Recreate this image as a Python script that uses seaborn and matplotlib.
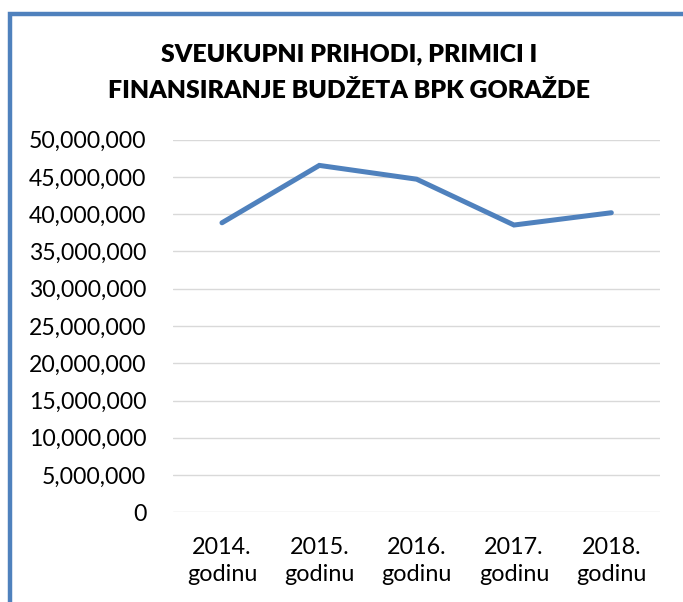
import matplotlib
matplotlib.use("Agg")
import matplotlib.pyplot as plt
import matplotlib.ticker as mticker
from matplotlib.patches import Rectangle
import pandas as pd
import seaborn as sns

# data
godine = ["2014.\ngodinu", "2015.\ngodinu", "2016.\ngodinu", "2017.\ngodinu", "2018.\ngodinu"]
prihodi = [38850000, 46550000, 44700000, 38550000, 40200000]
y_ticks = [0, 5000000, 10000000, 15000000, 20000000, 25000000,
           30000000, 35000000, 40000000, 45000000, 50000000]

df = pd.DataFrame({"godina": godine, "iznos": prihodi})

sns.set_theme(style="white")
plt.rcParams["font.family"] = ["Lato", "DejaVu Sans"]

plava = "#4F81BD"
W, H = 683, 602
fig = plt.figure(figsize=(W / 100, H / 100), dpi=100)
ax = fig.add_axes([173.3 / W, 1 - 512.3 / H, (660 - 173.3) / W, (512.3 - 139.7) / H])

sns.lineplot(data=df, x="godina", y="iznos", ax=ax, sort=False,
             color=plava, linewidth=3.6, solid_capstyle="round", solid_joinstyle="miter")

ax.set_xlim(-0.5, 4.5)
ax.set_ylim(0, 50000000)
ax.set_yticks(y_ticks)
ax.yaxis.set_major_formatter(mticker.FuncFormatter(lambda v, p: f"{v:,.0f}"))
ax.grid(axis="y", color="#D9D9D9", linewidth=1.0)
ax.grid(axis="x", visible=False)
ax.set_axisbelow(True)
for s in ax.spines.values():
    s.set_visible(False)
ax.tick_params(axis="y", length=0, pad=19.5, labelsize=16.6, labelcolor="black")
ax.tick_params(axis="x", length=0, pad=17.5, labelsize=16.8, labelcolor="black")
for t in ax.get_xticklabels():
    t.set_linespacing(1.38)
ax.set_xlabel("")
ax.set_ylabel("")

# chart title, two lines
fig.text(349.5 / W, 1 - 61.7 / H, "SVEUKUPNI PRIHODI, PRIMICI I", ha="center", va="baseline",
         fontsize=17.9, fontweight="heavy", color="black")
fig.text(349.5 / W, 1 - 98.3 / H, "FINANSIRANJE BUDŽETA BPK GORAŽDE", ha="center", va="baseline",
         fontsize=17.9, fontweight="heavy", color="black")

# blue frame of the chart area (cut off on the right and bottom)
okvir = Rectangle((10 / W, -0.1), 1.2, 1.1 - 14 / H, transform=fig.transFigure,
                  fill=False, edgecolor=plava, linewidth=3.2, clip_on=False)
fig.patches.append(okvir)

fig.savefig("out.png", dpi=100)
